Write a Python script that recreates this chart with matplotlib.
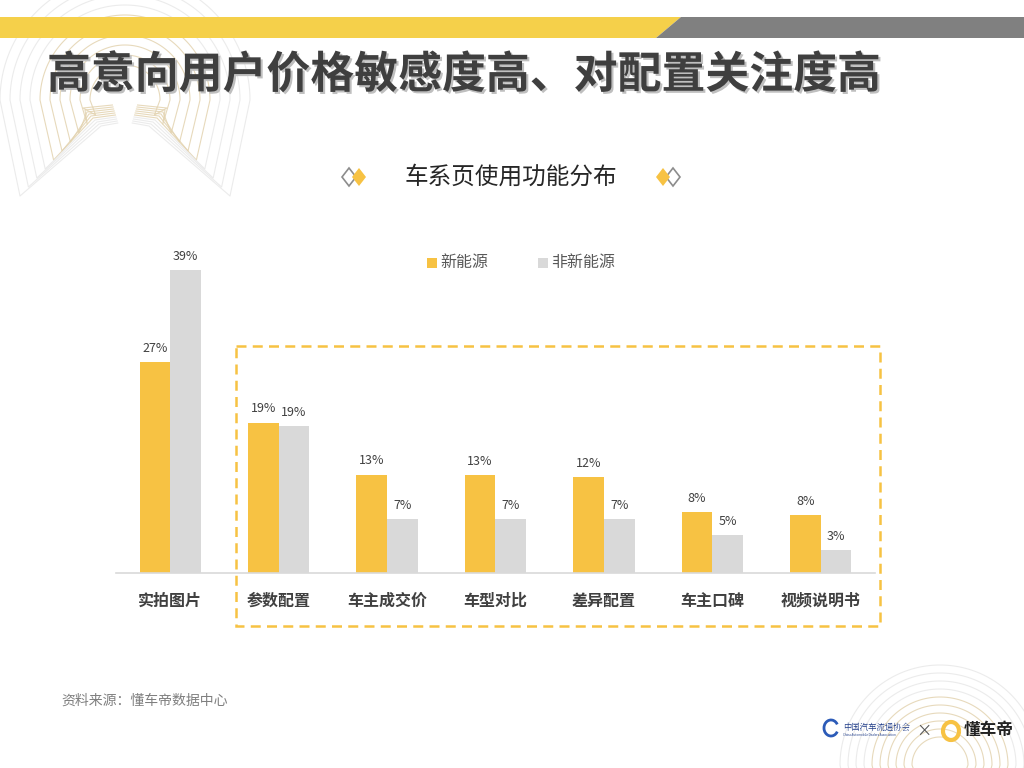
import matplotlib
matplotlib.use("Agg")
import matplotlib.pyplot as plt
import matplotlib.patheffects as pe
from matplotlib.patches import Polygon, Rectangle, Arc
import numpy as np

plt.rcParams['font.family'] = ['Noto Sans CJK SC', 'DejaVu Sans']

# data
categories = ['实拍图片', '参数配置', '车主成交价', '车型对比', '差异配置', '车主口碑', '视频说明书']
new_energy = [27.2, 19.4, 12.7, 12.6, 12.4, 7.9, 7.5]
non_new_energy = [39.0, 18.9, 7.0, 7.0, 7.0, 4.9, 3.0]
series_names = ['新能源', '非新能源']

title = '高意向用户价格敏感度高、对配置关注度高'
subtitle = '车系页使用功能分布'
source = '资料来源：懂车帝数据中心'

YELLOW = '#F7C243'
GREY = '#D9D9D9'
DARK = '#404040'

W, H = 1024, 768
fig = plt.figure(figsize=(W / 100, H / 100), dpi=100)

# background layer in pixel coordinates
bg = fig.add_axes([0, 0, 1, 1])
bg.set_xlim(0, W)
bg.set_ylim(H, 0)
bg.axis('off')


def emblem(cx, cy, scale, n=10):
    # faint concentric outlines of the arch logo
    for k in range(n):
        r = (35 + 10 * k) * scale
        fx = 0.84 * r
        fy = (15 + 9 * k) * scale
        wn = (42 - 2 * k) * scale
        yn = (5 + 2 * k) * scale
        th = np.linspace(np.pi, 0, 80)
        ax_ = cx + r * np.cos(th)
        ay_ = cy - r * np.sin(th)
        xs = [cx - wn * 0.3, cx - wn, cx - fx] + list(ax_) + [cx + fx, cx + wn, cx + wn * 0.3]
        ys = [cy + yn, cy + yn + 3 * scale, cy + fy] + list(ay_) + [cy + fy, cy + yn + 3 * scale, cy + yn]
        col = '#E3D3B0' if k < 6 else '#E8E8E8'
        bg.plot(xs, ys, color=col, lw=0.8, alpha=0.85, zorder=0)


emblem(125, 100, 1.0)
emblem(940, 765, 0.8)

# top banner
bg.add_patch(Polygon([[0, 17], [681, 17], [656, 38], [0, 38]], closed=True,
                     facecolor='#F5D04A', edgecolor='none'))
bg.add_patch(Polygon([[681, 17], [W, 17], [W, 38], [656, 38]], closed=True,
                     facecolor='#808080', edgecolor='none'))

# title
bg.text(47, 75, title, fontsize=31.6, fontweight='black', color='#3F3F3F',
        va='center', ha='left',
        path_effects=[pe.SimplePatchShadow(offset=(1.5, -1.5), shadow_rgbFace='#BFBFBF', alpha=1),
                      pe.Normal()])

# subtitle with diamonds
bg.text(511, 177, subtitle, fontsize=17, color='#262626', ha='center', va='center')


def diamond(cx, cy, w, h, face, edge):
    bg.add_patch(Polygon([[cx - w, cy], [cx, cy - h], [cx + w, cy], [cx, cy + h]],
                         closed=True, facecolor=face, edgecolor=edge, lw=1.2))


diamond(349, 177, 7, 9, 'white', '#8C8C8C')
diamond(359, 177, 7, 9, YELLOW, 'none')
diamond(673, 177, 7, 9, 'white', '#8C8C8C')
diamond(663, 177, 7, 9, YELLOW, 'none')

# dashed highlight box
bg.add_patch(Rectangle((236, 346), 644, 280, fill=False, edgecolor=YELLOW,
                       lw=1.8, linestyle=(0, (4, 2.5))))

# legend
bg.add_patch(Rectangle((427, 258), 10, 10, facecolor=YELLOW, edgecolor='none'))
bg.text(440, 263, series_names[0], fontsize=11.5, color='#595959', va='center')
bg.add_patch(Rectangle((538, 258), 10, 10, facecolor=GREY, edgecolor='none'))
bg.text(551, 263, series_names[1], fontsize=11.5, color='#595959', va='center')

# source
bg.text(61, 701, source, fontsize=10, color='#7F7F7F', va='center')

# logos (text approximations)
bg.text(843, 727, '中国汽车流通协会', fontsize=6, color='#1F3C88', va='center',
        fontfamily=['Noto Serif CJK SC', 'Noto Sans CJK SC'])
bg.text(843, 735, 'China Automobile Dealers Association', fontsize=2.2, color='#1F3C88', va='center')
bg.add_patch(Arc((831, 728), 14, 16, theta1=30, theta2=330, color='#2C5BB8', lw=2))
bg.text(924, 731, '×', fontsize=11, color='#555555', ha='center', va='center')
bg.add_patch(Arc((951, 731), 16, 18, theta1=0, theta2=360, color=YELLOW, lw=3))
bg.text(964, 730, '懂车帝', fontsize=12, fontweight='bold', color='#222222', va='center')

# chart axes
ymax = 44
ax = fig.add_axes([116 / W, 1 - 573.3 / H, (875 - 116) / W, ymax * 7.77 / H])
ax.patch.set_alpha(0)
x = np.arange(len(categories))
bw = 0.283
b1 = ax.bar(x - bw / 2, new_energy, bw, color=YELLOW, edgecolor='none')
b2 = ax.bar(x + bw / 2, non_new_energy, bw, color=GREY, edgecolor='none')

for bars, vals in ((b1, new_energy), (b2, non_new_energy)):
    for rect, v in zip(bars, vals):
        ax.annotate(f'{v:.0f}%', (rect.get_x() + rect.get_width() / 2, v),
                    xytext=(0, 10), textcoords='offset points',
                    ha='center', va='center', fontsize=9, color=DARK)

ax.set_xlim(-0.5, len(categories) - 0.5)
ax.set_ylim(0, ymax)
ax.set_xticks(x)
ax.set_xticklabels(categories, fontsize=11.5, fontweight='bold', color=DARK)
ax.tick_params(axis='x', length=0, pad=14)
ax.set_yticks([])
for s in ('top', 'right', 'left'):
    ax.spines[s].set_visible(False)
ax.spines['bottom'].set_color(GREY)
ax.spines['bottom'].set_linewidth(1.2)

fig.savefig('out.png', dpi=100)
